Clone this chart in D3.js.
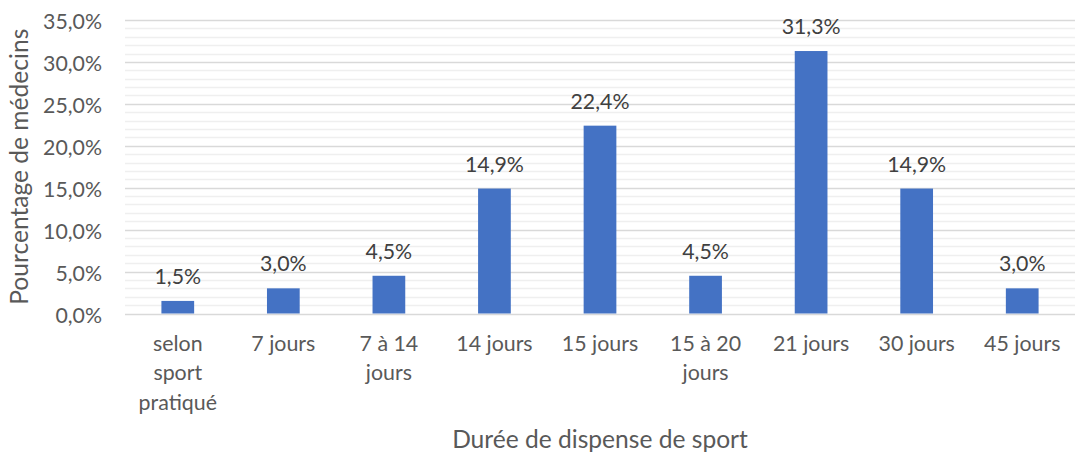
<!DOCTYPE html>
<html lang="fr">
<head>
  <meta charset="UTF-8">
  <title>Durée de dispense de sport</title>
  <script src="https://d3js.org/d3.v7.min.js"></script>
  <style>
    body { margin: 0; padding: 0; background: #fff; }
    svg { display: block; font-family: Lato, "Open Sans", sans-serif; }
  </style>
</head>
<body>
  <svg width="1075" height="459"></svg>
  <script>
    const categories = ["selon sport pratiqué", "7 jours", "7 à 14 jours", "14 jours", "15 jours",
                        "15 à 20 jours", "21 jours", "30 jours", "45 jours"];
    const values = [1.5, 3.0, 4.5, 14.9, 22.4, 4.5, 31.3, 14.9, 3.0];
    const yTicks = [0, 5, 10, 15, 20, 25, 30, 35];

    const width = 1075, height = 459;
    const margin = {top: 20, right: 0, bottom: 146, left: 125};
    const svg = d3.select("svg");

    // font size that gives a sample string a given width (Calibri is not installed)
    function fitSize(sample, target) {
      const t = svg.append("text").style("font-size", "100px").text(sample);
      const w = t.node().getComputedTextLength();
      t.remove();
      return target / w * 100;
    }
    const tickSize = fitSize("35,0%", 59);
    const catSize = fitSize("7 jours", 64);
    const titleSize = fitSize("Durée de dispense de sport", 296);

    const x = d3.scaleBand()
      .domain(categories)
      .range([margin.left, width - margin.right])
      .paddingInner(0.69)
      .paddingOuter(0.345);

    const y = d3.scaleLinear()
      .domain([0, 35])
      .range([height - margin.bottom + 0.5, margin.top]);

    const fmt = v => d3.format(".1f")(v).replace(".", ",") + "%";

    // minor grid every 1%
    svg.append("g")
      .selectAll("line")
      .data(d3.range(0, 36, 1).filter(v => v % 5 !== 0))
      .join("line")
      .attr("x1", margin.left).attr("x2", width - margin.right)
      .attr("y1", d => Math.round(y(d)) + 0.5).attr("y2", d => Math.round(y(d)) + 0.5)
      .attr("stroke", "#efefef").attr("stroke-width", 1.5);

    // major grid
    svg.append("g")
      .selectAll("line")
      .data(yTicks)
      .join("line")
      .attr("x1", margin.left).attr("x2", width - margin.right)
      .attr("y1", d => Math.round(y(d)) + 0.5).attr("y2", d => Math.round(y(d)) + 0.5)
      .attr("stroke", "#d9d9d9").attr("stroke-width", 1.5);

    // y axis labels
    const yAxis = svg.append("g")
      .attr("transform", `translate(${margin.left - 23},0)`)
      .call(d3.axisLeft(y).tickValues(yTicks).tickFormat(fmt).tickSize(0).tickPadding(0));
    yAxis.select(".domain").remove();
    yAxis.selectAll("text")
      .attr("dy", "0.4em")
      .attr("fill", "#595959")
      .style("font-size", tickSize + "px")
      .style("font-family", "Lato, 'Open Sans', sans-serif");

    // bars
    svg.append("g")
      .selectAll("rect")
      .data(values)
      .join("rect")
      .attr("x", (d, i) => x(categories[i]))
      .attr("width", x.bandwidth())
      .attr("y", d => y(d))
      .attr("height", d => y(0) - y(d))
      .attr("fill", "#4472C4");

    // data labels
    svg.append("g")
      .selectAll("text")
      .data(values)
      .join("text")
      .attr("x", (d, i) => x(categories[i]) + x.bandwidth() / 2)
      .attr("y", d => y(d) - 17)
      .attr("text-anchor", "middle")
      .attr("fill", "#404040")
      .style("font-size", tickSize + "px")
      .text(fmt);

    // x axis labels with wrapping
    const xAxis = svg.append("g")
      .attr("transform", `translate(0,${y(0)})`)
      .call(d3.axisBottom(x).tickSize(0).tickPadding(0));
    xAxis.select(".domain").remove();
    xAxis.selectAll("text")
      .attr("fill", "#595959")
      .style("font-size", catSize + "px")
      .style("font-family", "Lato, 'Open Sans', sans-serif")
      .call(wrap, 86);

    function wrap(texts, maxW) {
      texts.each(function() {
        const text = d3.select(this);
        const words = text.text().split(/\s+/);
        text.text(null).attr("y", 37).attr("dy", null);
        let line = [], lineNo = 0;
        let tspan = text.append("tspan").attr("x", 0).attr("y", 37);
        words.forEach(w => {
          line.push(w);
          tspan.text(line.join(" "));
          if (tspan.node().getComputedTextLength() > maxW && line.length > 1) {
            line.pop();
            tspan.text(line.join(" "));
            line = [w];
            lineNo++;
            tspan = text.append("tspan").attr("x", 0).attr("y", 37 + lineNo * 29.5).text(w);
          }
        });
      });
    }

    // axis titles
    svg.append("text")
      .attr("transform", `translate(28,${(margin.top + y(0)) / 2}) rotate(-90)`)
      .attr("text-anchor", "middle")
      .attr("fill", "#595959")
      .style("font-size", titleSize + "px")
      .text("Pourcentage de médecins");

    svg.append("text")
      .attr("x", (margin.left + width) / 2)
      .attr("y", 448)
      .attr("text-anchor", "middle")
      .attr("fill", "#595959")
      .style("font-size", titleSize + "px")
      .text("Durée de dispense de sport");
  </script>
</body>
</html>
